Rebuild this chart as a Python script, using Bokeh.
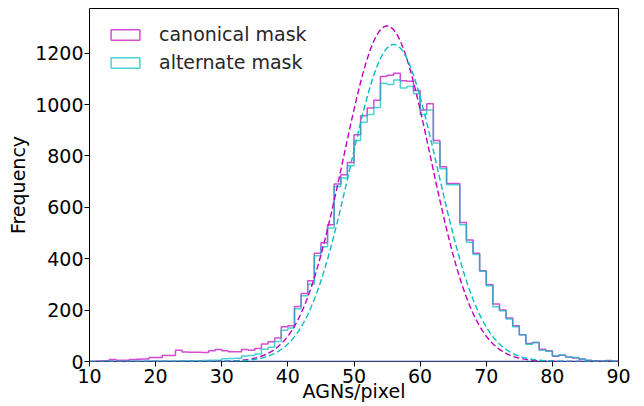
import numpy as np
from bokeh.plotting import figure
from bokeh.models import Range1d, Legend, LegendItem, FixedTicker
from bokeh.embed import file_html
from bokeh.resources import INLINE

# Histogram bins (AGNs per pixel), unit width from 10 to 90
bin_edges = list(range(10, 91))

canonical_counts = [
    0, 2, 3, 8, 5, 5, 8, 9, 10, 16,
    16, 23, 23, 44, 37, 36, 36, 35, 42, 47,
    42, 38, 38, 47, 44, 51, 68, 77, 91, 135,
    139, 214, 265, 314, 421, 462, 532, 691, 727, 775,
    883, 957, 987, 1017, 1109, 1114, 1122, 1093, 1091, 1055,
    979, 1003, 860, 758, 693, 693, 541, 473, 421, 353,
    299, 224, 200, 169, 139, 104, 70, 74, 48, 42,
    20, 24, 18, 14, 10, 4, 3, 2, 4, 1,
]

alternate_counts = [
    0, 0, 1, 1, 1, 1, 1, 1, 1, 2,
    2, 2, 2, 2, 3, 3, 3, 4, 5, 5,
    11, 12, 13, 21, 23, 29, 48, 55, 78, 122,
    130, 205, 256, 301, 412, 447, 520, 681, 714, 762,
    860, 931, 961, 989, 1083, 1078, 1096, 1065, 1070, 1042,
    961, 979, 850, 750, 688, 688, 532, 464, 416, 351,
    295, 213, 198, 165, 135, 104, 67, 74, 44, 40,
    22, 25, 18, 16, 9, 5, 2, 1, 3, 1,
]

# Gaussian fits: (mean, sigma, peak height)
canonical_fit = (55.0, 6.6, 1306.0)
alternate_fit = (56.0, 6.65, 1234.0)

MAGENTA = "#bf00bf"
CYAN = "#00bfbf"
FONT = "DejaVu Sans"
FONT_SIZE = "19px"


def step_outline(edges, counts):
    """Closed outline of a step histogram, as drawn by histtype='step'."""
    xs, ys = [edges[0]], [0]
    for i, c in enumerate(counts):
        xs += [edges[i], edges[i + 1]]
        ys += [c, c]
    xs.append(edges[-1])
    ys.append(0)
    return xs, ys


def gaussian(x, fit):
    mu, sigma, peak = fit
    return peak * np.exp(-((x - mu) ** 2) / (2 * sigma ** 2))


p = figure(
    width=644, height=406,
    output_backend="svg", toolbar_location=None,
    x_range=Range1d(10, 90), y_range=Range1d(0, 1374),
    min_border_left=89, min_border_right=26,
    min_border_top=8, min_border_bottom=45,
)
p.background_fill_color = "white"
p.border_fill_color = "white"
p.outline_line_color = "black"
p.outline_line_width = 1
p.xgrid.visible = False
p.ygrid.visible = False

cx, cy = step_outline(bin_edges, canonical_counts)
ax_, ay_ = step_outline(bin_edges, alternate_counts)

r_can = p.patch(cx, cy, fill_color=None, line_color=MAGENTA,
                line_alpha=0.7, line_width=1.5)
r_alt = p.patch(ax_, ay_, fill_color=None, line_color=CYAN,
                line_alpha=0.7, line_width=1.5)

xg = np.linspace(10, 90, 400)
p.line(xg, gaussian(xg, canonical_fit), line_color=MAGENTA,
       line_width=1.4, line_dash="6 3")
p.line(xg, gaussian(xg, alternate_fit), line_color=CYAN,
       line_width=1.4, line_dash="6 3")

legend = Legend(items=[
    LegendItem(label="canonical mask", renderers=[r_can]),
    LegendItem(label="alternate mask", renderers=[r_alt]),
])
# bottom-left corner of the legend box, in pixels from the frame's bottom-left
legend.location = (18, 288)
legend.margin = 0
legend.padding = 0
legend.spacing = 6
legend.glyph_width = 36
legend.glyph_height = 13
legend.label_height = 22
legend.label_standoff = 16
legend.label_text_font = FONT
legend.label_text_font_size = FONT_SIZE
legend.label_text_color = "#262626"
legend.border_line_alpha = 0
legend.background_fill_alpha = 0
p.add_layout(legend)

for ax in (p.xaxis[0], p.yaxis[0]):
    ax.axis_line_color = None
    ax.major_tick_line_color = "black"
    ax.major_tick_out = 5
    ax.major_tick_in = 0
    ax.minor_tick_line_color = None
    ax.major_label_text_font = FONT
    ax.major_label_text_font_size = FONT_SIZE
    ax.major_label_text_color = "black"
    ax.axis_label_text_font = FONT
    ax.axis_label_text_font_size = FONT_SIZE
    ax.axis_label_text_font_style = "normal"
    ax.axis_label_text_color = "black"

p.xaxis.ticker = FixedTicker(ticks=list(range(10, 91, 10)))
p.yaxis.ticker = FixedTicker(ticks=list(range(0, 1201, 200)))
p.xaxis.axis_label = "AGNs/pixel"
p.yaxis.axis_label = "Frequency"
p.xaxis.major_label_standoff = 2
p.xaxis.axis_label_standoff = -6
p.yaxis.major_label_standoff = 1
p.yaxis.axis_label_standoff = 3

open("out.html", "w").write(file_html(p, INLINE))
